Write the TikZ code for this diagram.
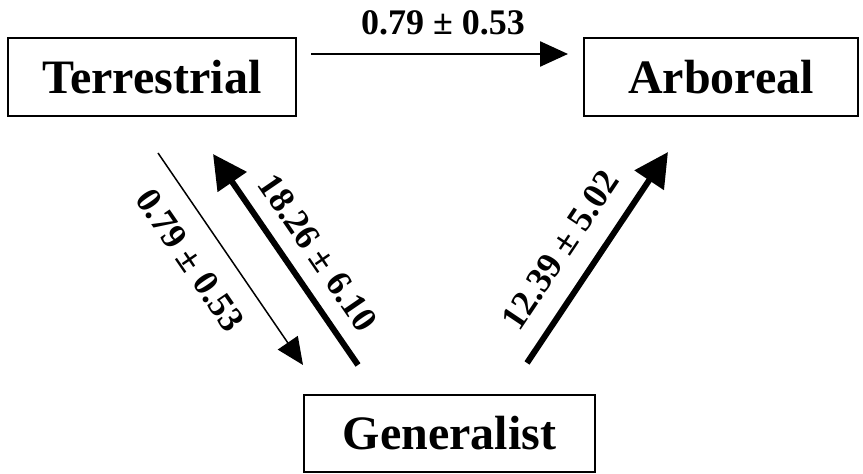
\documentclass[tikz,border=0pt]{standalone}
\usepackage{fontspec}
\setmainfont{Liberation Serif}
\usetikzlibrary{arrows.meta}
\tikzset{
  statebox/.style={draw=black, line width=2pt, inner sep=0pt, font=\fontsize{48}{52}\selectfont\bfseries},
  ratelabel/.style={font=\fontsize{36}{40}\selectfont\bfseries, inner sep=0pt},
  thinarrow/.style={line width=1.5pt, -{Triangle[length=27pt,width=24pt]}},
  midarrow/.style={line width=2.5pt, -{Triangle[length=28pt,width=25pt]}},
  thickarrow/.style={line width=6pt, -{Triangle[length=34pt,width=34pt]}}
}
\begin{document}
\begin{tikzpicture}[x=1pt,y=1pt]
\useasboundingbox (0,0) rectangle (863,474);
\node[statebox, minimum width=288pt, minimum height=78pt] (ter) at (152,397) {Terrestrial};
\node[statebox, minimum width=274pt, minimum height=78pt] (arb) at (721,397) {Arboreal};
\node[statebox, minimum width=291pt, minimum height=77pt] (gen) at (449.5,40.5) {Generalist};

\coordinate (ta1) at (311,420);
\coordinate (ta2) at (568,420);
\coordinate (tg1) at (158,321);
\coordinate (tg2) at (303,109);
\coordinate (gt1) at (358,109);
\coordinate (gt2) at (213,320);
\coordinate (ga1) at (527,111);
\coordinate (ga2) at (668,322);

\draw[midarrow] (ta1) -- (ta2);
\draw[thinarrow] (tg1) -- (tg2);
\draw[thickarrow] (gt1) -- (gt2);
\draw[thickarrow] (ga1) -- (ga2);

\node[ratelabel, anchor=base] (l1) at (443,439) {0.79 ± 0.53};
\node[ratelabel, rotate=-55.6] (l2) at (190,214) {0.79 ± 0.53};
\node[ratelabel, rotate=-55.6] (l3) at (318,221) {18.26 ± 6.10};
\node[ratelabel, rotate=56.2] (l4) at (560,224) {12.39 ± 5.02};
\end{tikzpicture}
\end{document}
